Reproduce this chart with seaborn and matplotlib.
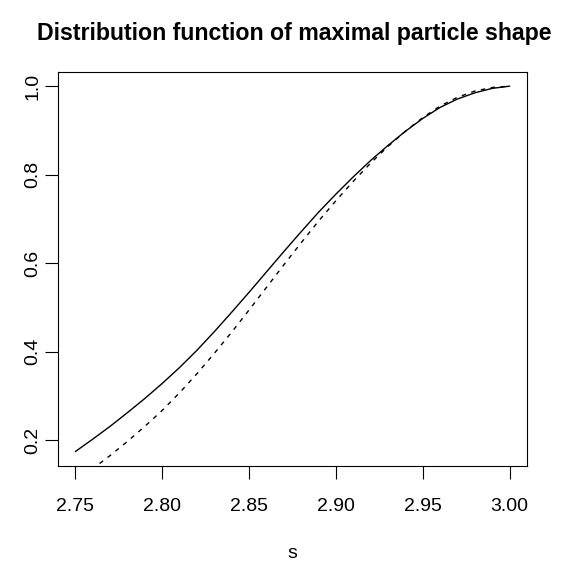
import numpy as np
import pandas as pd
import matplotlib
matplotlib.use("Agg")
import matplotlib.pyplot as plt
import seaborn as sns

# Data
s_values = [2.75, 2.76, 2.77, 2.78, 2.79, 2.80, 2.81, 2.82, 2.83, 2.84, 2.85,
            2.86, 2.87, 2.88, 2.89, 2.90, 2.91, 2.92, 2.93, 2.94, 2.95,
            2.96, 2.97, 2.98, 2.99, 3.00]
solid_cdf = [0.174, 0.202, 0.231, 0.262, 0.294, 0.328, 0.364, 0.403, 0.445, 0.489, 0.534,
             0.580, 0.626, 0.671, 0.715, 0.756, 0.795, 0.832, 0.866, 0.898, 0.927,
             0.952, 0.971, 0.985, 0.995, 1.000]
dashed_cdf = [0.107, 0.135, 0.165, 0.197, 0.231, 0.267, 0.307, 0.350, 0.396, 0.444, 0.494,
              0.545, 0.596, 0.646, 0.695, 0.741, 0.785, 0.826, 0.864, 0.898, 0.929,
              0.955, 0.975, 0.989, 0.997, 1.000]
x_ticks = [2.75, 2.80, 2.85, 2.90, 2.95, 3.00]
x_tick_labels = ["2.75", "2.80", "2.85", "2.90", "2.95", "3.00"]
y_ticks = [0.2, 0.4, 0.6, 0.8, 1.0]
y_tick_labels = ["0.2", "0.4", "0.6", "0.8", "1.0"]
title_text = "Distribution function of maximal particle shape"
x_label = "s"

df = pd.DataFrame({"s": s_values, "solid": solid_cdf, "dashed": dashed_cdf})

sns.set_style("white")
plt.rcParams["font.family"] = ["Liberation Sans", "DejaVu Sans"]
plt.rcParams["text.color"] = "black"
plt.rcParams["xtick.color"] = "black"
plt.rcParams["ytick.color"] = "black"

W, H = 565, 563
fig = plt.figure(figsize=(W / 100, H / 100), dpi=100)
left, right, top, bottom = 58, 527, 72, 465.7
ax = fig.add_axes([left / W, 1 - bottom / H, (right - left) / W, (bottom - top) / H])

sns.lineplot(data=df, x="s", y="solid", ax=ax, color="black", linewidth=1.0)
sns.lineplot(data=df, x="s", y="dashed", ax=ax, color="black", linewidth=1.0,
             linestyle=(0, (3.2, 4.0)))

ax.set_xlim(2.74, 3.01)
ax.set_ylim(0.142, 1.032)
ax.set_xticks(x_ticks)
ax.set_xticklabels(x_tick_labels, fontsize=14, color="black")
ax.set_yticks(y_ticks)
ax.set_yticklabels(y_tick_labels, fontsize=14, rotation=90, va="center", color="black")
ax.tick_params(axis="both", direction="out", length=9.3, width=0.8, color="black",
               bottom=True, left=True)
ax.tick_params(axis="x", pad=14)
ax.tick_params(axis="y", pad=2.5)
for sp in ax.spines.values():
    sp.set_visible(True)
    sp.set_color("black")
    sp.set_linewidth(0.8)
ax.set_xlabel("")
ax.set_ylabel("")

fig.text(294 / W, 1 - 40 / H, title_text, ha="center", va="baseline",
         fontsize=16.7, fontweight="bold", color="black")
fig.text(292.5 / W, 1 - 553 / H, x_label, ha="center", va="center", fontsize=14,
         color="black")

fig.savefig("out.png", dpi=100)
